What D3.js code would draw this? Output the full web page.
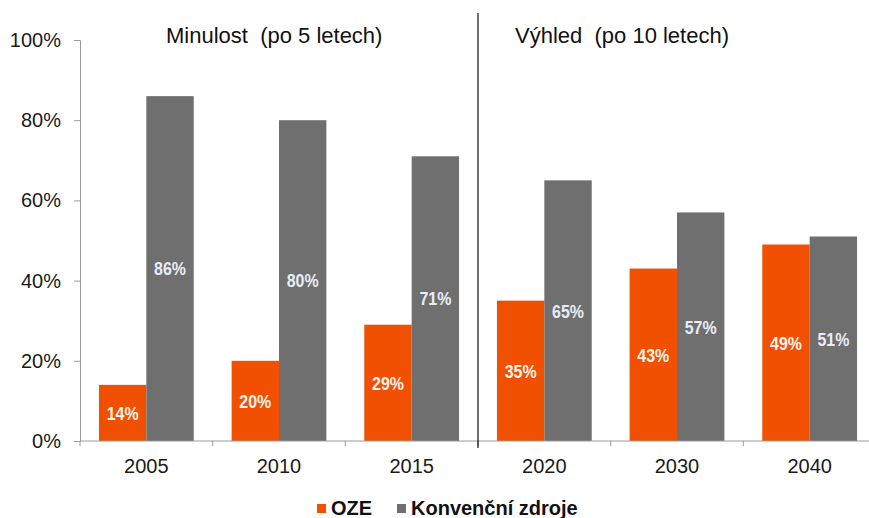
<!DOCTYPE html>
<html>
<head>
<meta charset="utf-8">
<script src="https://cdn.jsdelivr.net/npm/d3@7"></script>
<style>
  body { margin: 0; background: #fff; }
  svg { display: block; }
</style>
</head>
<body>
<div id="chart"></div>
<script>
// data
const years = ["2005", "2010", "2015", "2020", "2030", "2040"];
const oze = [14, 20, 29, 35, 43, 49];
const konvencni = [86, 80, 71, 65, 57, 51];
const yTicks = [0, 20, 40, 60, 80, 100];
const seriesNames = ["OZE", "Konvenční zdroje"];
const seriesColors = ["#f05000", "#6f6f6f"];
const sectionTitles = ["Minulost  (po 5 letech)", "Výhled  (po 10 letech)"];

const width = 869;
const height = 518;
const margin = { top: 40, right: -7, bottom: 77, left: 80 };

const svg = d3.select("#chart").append("svg")
  .attr("width", width)
  .attr("height", height)
  .style("font-family", "Arial, 'Liberation Sans', sans-serif");

const x = d3.scaleBand()
  .domain(years)
  .range([margin.left, width - margin.right])
  .paddingInner(0)
  .paddingOuter(0);

const xInner = d3.scaleBand()
  .domain(seriesNames)
  .range([0, x.bandwidth()])
  .paddingOuter(0.4)
  .paddingInner(0);

const y = d3.scaleLinear()
  .domain([0, 100])
  .range([height - margin.bottom, margin.top]);

const rows = years.map((yr, i) => ({ year: yr, values: [oze[i], konvencni[i]] }));

// bars
const groups = svg.append("g")
  .selectAll("g")
  .data(rows)
  .join("g")
  .attr("transform", d => `translate(${x(d.year)},0)`);

groups.selectAll("rect")
  .data(d => d.values.map((v, j) => ({ name: seriesNames[j], v, j })))
  .join("rect")
  .attr("x", d => xInner(d.name))
  .attr("width", xInner.bandwidth())
  .attr("y", d => y(d.v))
  .attr("height", d => y(0) - y(d.v))
  .attr("fill", d => seriesColors[d.j]);

// value labels, squeezed horizontally to look like a narrow bold face
groups.selectAll("text")
  .data(d => d.values.map((v, j) => ({ name: seriesNames[j], v, j })))
  .join("text")
  .attr("transform", d => `translate(${xInner(d.name) + xInner.bandwidth() / 2},${(y(d.v) + y(0)) / 2}) scale(0.84,1)`)
  .attr("dy", "0.36em")
  .attr("text-anchor", "middle")
  .attr("font-weight", "bold")
  .attr("font-size", 19)
  .attr("fill", d => d.j === 0 ? "#fff2ea" : "#e6edf6")
  .text(d => d.v + "%");

// y axis
const yAxis = svg.append("g")
  .attr("transform", `translate(${margin.left},0)`)
  .call(d3.axisLeft(y).tickValues(yTicks).tickSize(6).tickPadding(13).tickFormat(d => d + "%"));
yAxis.selectAll("path, line").attr("stroke", "#9a9a9a");
yAxis.selectAll("text").attr("font-size", 20).attr("fill", "#1a1a1a")
  .attr("font-family", "Arial, 'Liberation Sans', sans-serif");

// x axis with tick marks on the category boundaries
const xAxis = svg.append("g")
  .attr("transform", `translate(0,${y(0)})`);
xAxis.append("line")
  .attr("x1", margin.left).attr("x2", width)
  .attr("stroke", "#9a9a9a");
xAxis.selectAll("line.tick")
  .data(years)
  .join("line")
  .attr("class", "tick")
  .attr("x1", d => x(d)).attr("x2", d => x(d))
  .attr("y1", 0).attr("y2", 5)
  .attr("stroke", "#9a9a9a");
xAxis.selectAll("text")
  .data(years)
  .join("text")
  .attr("x", d => x(d) + x.bandwidth() / 2)
  .attr("y", 32)
  .attr("text-anchor", "middle")
  .attr("font-size", 20)
  .attr("fill", "#1a1a1a")
  .text(d => d);

// divider between past and outlook
const divX = x(years[3]);
svg.append("line")
  .attr("x1", divX).attr("x2", divX)
  .attr("y1", 13).attr("y2", y(0) + 7)
  .attr("stroke", "#111")
  .attr("stroke-width", 1.2);

// section titles
const titleStart = [margin.left + 86, divX + 37];
svg.append("g")
  .selectAll("text")
  .data(sectionTitles)
  .join("text")
  .attr("x", (d, i) => titleStart[i])
  .attr("y", 43)
  .attr("font-size", 22)
  .attr("fill", "#111")
  .attr("xml:space", "preserve")
  .style("white-space", "pre")
  .text(d => d);

// legend
const legend = svg.append("g").attr("transform", "translate(317,515)");
const legendX = [0, 80];
seriesNames.forEach((name, i) => {
  const g = legend.append("g").attr("transform", `translate(${legendX[i]},0)`);
  g.append("rect")
    .attr("x", 0).attr("y", -11)
    .attr("width", 9).attr("height", 9)
    .attr("fill", seriesColors[i]);
  g.append("text")
    .attr("x", 14).attr("y", 0)
    .attr("font-size", 20)
    .attr("font-weight", "bold")
    .attr("fill", "#111")
    .text(name);
});
</script>
</body>
</html>
